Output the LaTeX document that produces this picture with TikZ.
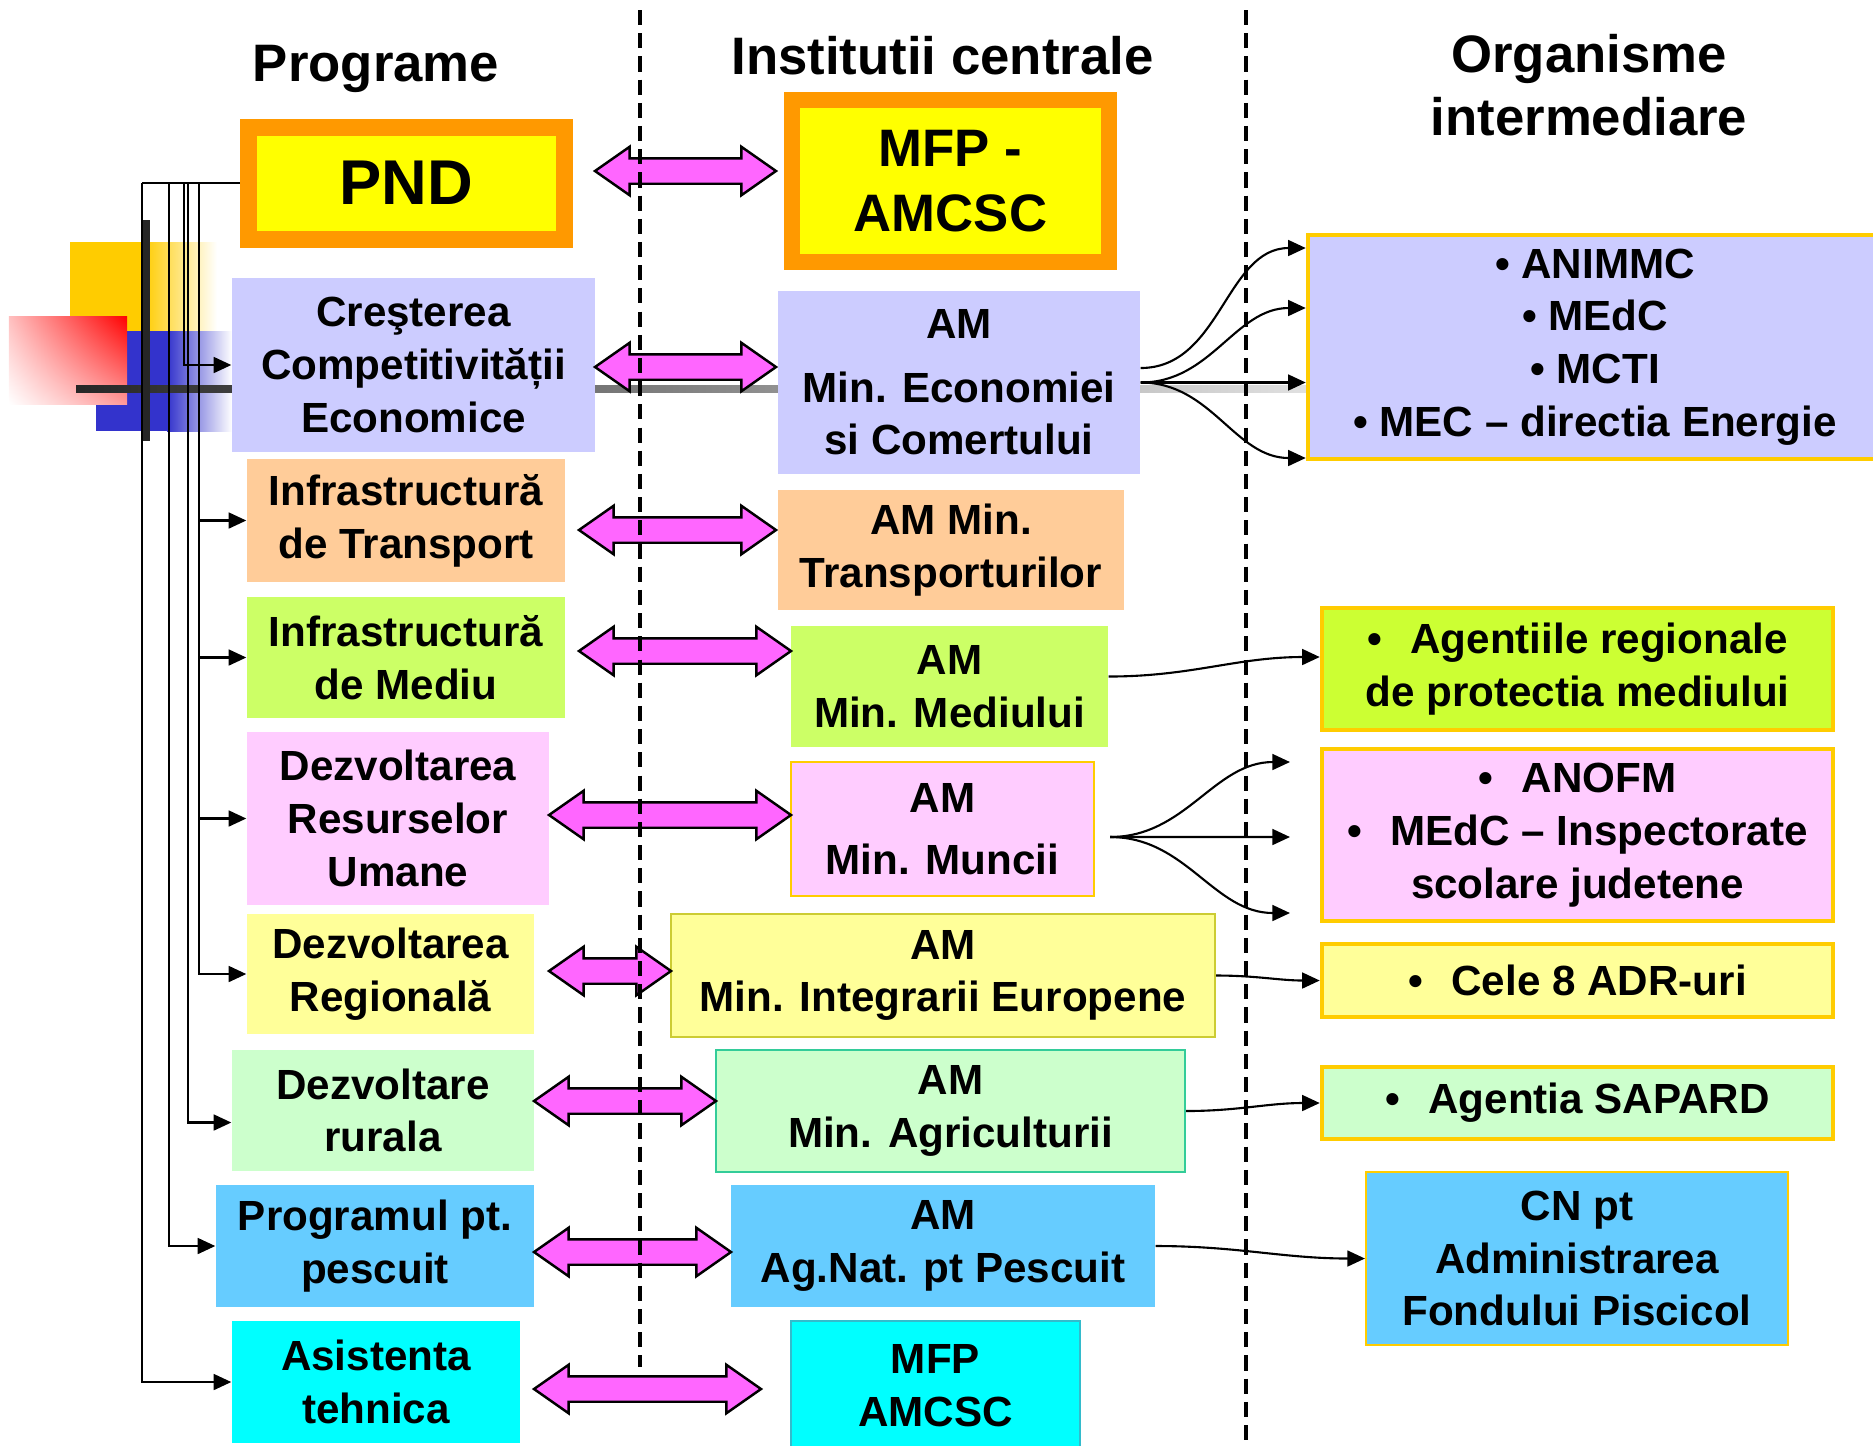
\documentclass[tikz,border=0pt]{standalone}
\usepackage{fontspec}
\setmainfont{Liberation Sans}
\usetikzlibrary{arrows.meta,shapes.arrows,shadings}
\definecolor{portocal}{HTML}{FF9900}
\definecolor{galben}{HTML}{FFFF00}
\definecolor{auriu}{HTML}{FFCC00}
\definecolor{lila}{HTML}{CCCCFF}
\definecolor{piersica}{HTML}{FFCC99}
\definecolor{verdeI}{HTML}{CCFF66}
\definecolor{verdeR}{HTML}{CCFF33}
\definecolor{rozP}{HTML}{FFCCFF}
\definecolor{galbenD}{HTML}{FFFF99}
\definecolor{verdeD}{HTML}{CCFFCC}
\definecolor{albastruP}{HTML}{66CCFF}
\definecolor{cian}{HTML}{00FFFF}
\definecolor{rozS}{HTML}{FF66FF}
\definecolor{albastruD}{HTML}{3333CC}
\definecolor{olivD}{HTML}{CCCC33}
\definecolor{turcoaz}{HTML}{33CC99}
\definecolor{cianD}{HTML}{33BBCC}
\begin{document}
\begin{tikzpicture}[every node/.style={inner sep=0pt,align=center,font=\bfseries\fontsize{12}{15}\selectfont},
  titlu/.style={font=\bfseries\fontsize{15}{18}\selectfont},
  fat/.style={double arrow,draw,fill=rozS,line width=0.7pt,inner ysep=0.115cm,minimum width=0.46cm,double arrow head extend=0.115cm,double arrow tip angle=70},
  leg/.style={-{Triangle[length=5pt,width=4.5pt]},line width=0.6pt},
  org/.style={draw=auriu,line width=0.045cm},
  sep/.style={dash pattern=on 4.3pt off 2.3pt,line width=1pt}]
\useasboundingbox (0,0) rectangle (18.73,-14.45);
% decor
\fill[auriu] (0.70,-2.42) rectangle (1.43,-3.32);
\shade[left color=auriu,right color=white] (1.43,-2.42) rectangle (2.17,-3.32);
\fill[albastruD] (0.96,-3.31) rectangle (1.67,-4.31);
\shade[left color=albastruD,right color=white] (1.67,-3.31) rectangle (2.32,-4.31);
\shade[upper left=red!25,upper right=red,lower left=white,lower right=red!40] (0.09,-3.16) rectangle (1.27,-4.04);
\shade[left color=black!85,right color=black!12] (0.76,-3.855) rectangle (13.06,-3.925);
\fill[black!85] (1.42,-2.20) rectangle (1.50,-4.41);
% titluri
\node[titlu] (tp) at (3.76,-0.69) {Programe};
\node[titlu] (ti) at (9.425,-0.56) {Institutii centrale};
\node[titlu] (to) at (15.89,-0.855) {Organisme\\intermediare};
% programe
\node[fill=galben,draw=portocal,line width=0.17cm,minimum width=3.16cm,minimum height=1.12cm,font=\bfseries\fontsize{18}{21}\selectfont] (pnd) at (4.06,-1.83) {PND};
\node[fill=lila,minimum width=3.63cm,minimum height=1.74cm] (crest) at (4.135,-3.65) {Creşterea\\Competitivității\\Economice};
\node[fill=piersica,minimum width=3.18cm,minimum height=1.23cm] (trans) at (4.06,-5.205) {Infrastructură\\de Transport};
\node[fill=verdeI,minimum width=3.18cm,minimum height=1.21cm] (dmed) at (4.06,-6.575) {Infrastructură\\de Mediu};
\node[fill=rozP,minimum width=3.02cm,minimum height=1.73cm] (resu) at (3.98,-8.185) {Dezvoltarea\\Resurselor\\Umane};
\node[fill=galbenD,minimum width=2.87cm,minimum height=1.2cm] (regi) at (3.905,-9.74) {Dezvoltarea\\Regională};
\node[fill=verdeD,minimum width=3.02cm,minimum height=1.21cm] (rura) at (3.83,-11.105) {Dezvoltare\\rurala};
\node[fill=albastruP,minimum width=3.18cm,minimum height=1.22cm] (pesc) at (3.75,-12.46) {Programul pt.\\pescuit};
\node[fill=cian,minimum width=2.88cm,minimum height=1.22cm] (asis) at (3.76,-13.82) {Asistenta\\tehnica};
% institutii
\node[fill=galben,draw=portocal,line width=0.16cm,minimum width=3.17cm,minimum height=1.62cm,font=\bfseries\fontsize{15}{18.4}\selectfont] (mfp) at (9.505,-1.81) {MFP -\\AMCSC};
\node[fill=lila,minimum width=3.62cm,minimum height=1.83cm] (amec) at (9.59,-3.825) {AM\\[3pt]Min. Economiei\\si Comertului};
\node[fill=piersica,minimum width=3.46cm,minimum height=1.2cm] (amtr) at (9.51,-5.5) {AM Min.\\Transporturilor};
\node[fill=verdeI,minimum width=3.17cm,minimum height=1.21cm] (amed) at (9.495,-6.865) {AM\\Min. Mediului};
\node[fill=rozP,draw=auriu,line width=0.6pt,minimum width=3.03cm,minimum height=1.34cm] (amun) at (9.425,-8.29) {AM\\[2.5pt]Min. Muncii};
\node[fill=galbenD,draw=olivD,line width=0.6pt,minimum width=5.44cm,minimum height=1.23cm] (amie) at (9.43,-9.755) {AM\\Min. Integrarii Europene};
\node[fill=verdeD,draw=turcoaz,line width=0.6pt,minimum width=4.69cm,minimum height=1.22cm] (amag) at (9.505,-11.11) {AM\\Min. Agriculturii};
\node[fill=albastruP,minimum width=4.24cm,minimum height=1.22cm] (amps) at (9.43,-12.46) {AM\\Ag.Nat. pt Pescuit};
\node[fill=cian,draw=cianD,line width=0.6pt,minimum width=2.89cm,minimum height=1.29cm] (amfp) at (9.355,-13.855) {MFP\\AMCSC};
% organisme
\node[org,fill=lila,minimum width=5.74cm,minimum height=2.24cm] (rE) at (15.95,-3.47) {• ANIMMC\\• MEdC\\• MCTI\\• MEC – directia Energie};
\node[org,fill=verdeR,minimum width=5.11cm,minimum height=1.22cm] (rMed) at (15.775,-6.69) {•\hspace{0.4em} Agentiile regionale\\de protectia mediului};
\node[org,fill=rozP,minimum width=5.11cm,minimum height=1.72cm] (rMun) at (15.775,-8.35) {•\hspace{0.4em} ANOFM\\•\hspace{0.4em} MEdC – Inspectorate\\scolare judetene};
\node[org,fill=galbenD,minimum width=5.11cm,minimum height=0.73cm] (rReg) at (15.775,-9.805) {•\hspace{0.4em} Cele 8 ADR-uri};
\node[org,fill=verdeD,minimum width=5.11cm,minimum height=0.72cm] (rAg) at (15.775,-11.03) {•\hspace{0.4em} Agentia SAPARD};
\node[fill=albastruP,draw=auriu,line width=0.6pt,minimum width=4.22cm,minimum height=1.73cm] (rPes) at (15.77,-12.585) {CN pt\\Administrarea\\Fondului Piscicol};
% sageti duble
\foreach \n/\x/\y/\l in {1/6.855/-1.71/1.81,2/6.855/-3.67/1.81,3/6.775/-5.30/1.97,4/6.85/-6.51/2.12,5/6.70/-8.15/2.42,6/6.10/-9.71/1.22,7/6.25/-11.01/1.82,8/6.325/-12.52/1.97,9/6.475/-13.89/2.27}
  \node[fat,minimum height=\l cm] (d\n) at (\x,\y) {};
\draw[sep] (6.40,-0.10) -- (6.40,-13.67);
\draw[sep] (12.46,-0.10) -- (12.46,-14.50);
% arbore
\foreach \i/\x in {1/1.42,2/1.69,3/1.84,4/1.88,5/1.99}
  \coordinate (k\i) at (\x,-1.83);
\draw[line width=0.6pt] (pnd.west) -- (k1);
\draw[leg] (k1) |- (asis.west);
\draw[leg] (k2) |- (pesc.west);
\draw[leg] (k3) |- (crest.west);
\draw[leg] (k4) |- ([yshift=-1.2mm]rura.west);
\foreach \b in {trans,dmed,resu,regi}
  \draw[leg] (k5) |- (\b.west);
% legaturi
\draw[leg] ([yshift=1.45mm]amec.east) to[out=0,in=180] ([yshift=9.9mm]rE.west);
\draw[leg] (amec.east) to[out=0,in=180] ([yshift=3.9mm]rE.west);
\draw[leg] (amec.east) -- (amec.east -| rE.west);
\draw[leg] (amec.east) to[out=0,in=180] ([yshift=-11.1mm]rE.west);
\draw[leg] ([yshift=1mm]amed.east) to[out=0,in=180] ([yshift=1.2mm]rMed.west);
\coordinate (m0) at ([shift={(1.5mm,-0.8mm)}]amun.east);
\coordinate (m1) at (12.9,-7.62);
\coordinate (m2) at (12.9,-8.37);
\coordinate (m3) at (12.9,-9.13);
\draw[leg] (m0) to[out=0,in=180] (m1);
\draw[leg] (m0) -- (m2);
\draw[leg] (m0) to[out=0,in=180] (m3);
\draw[leg] (amie.east) to[out=0,in=180] (rReg.west);
\draw[leg] (amag.east) to[out=0,in=180] (rAg.west);
\draw[leg] (amps.east) to[out=0,in=180] (rPes.west);
\end{tikzpicture}
\end{document}
